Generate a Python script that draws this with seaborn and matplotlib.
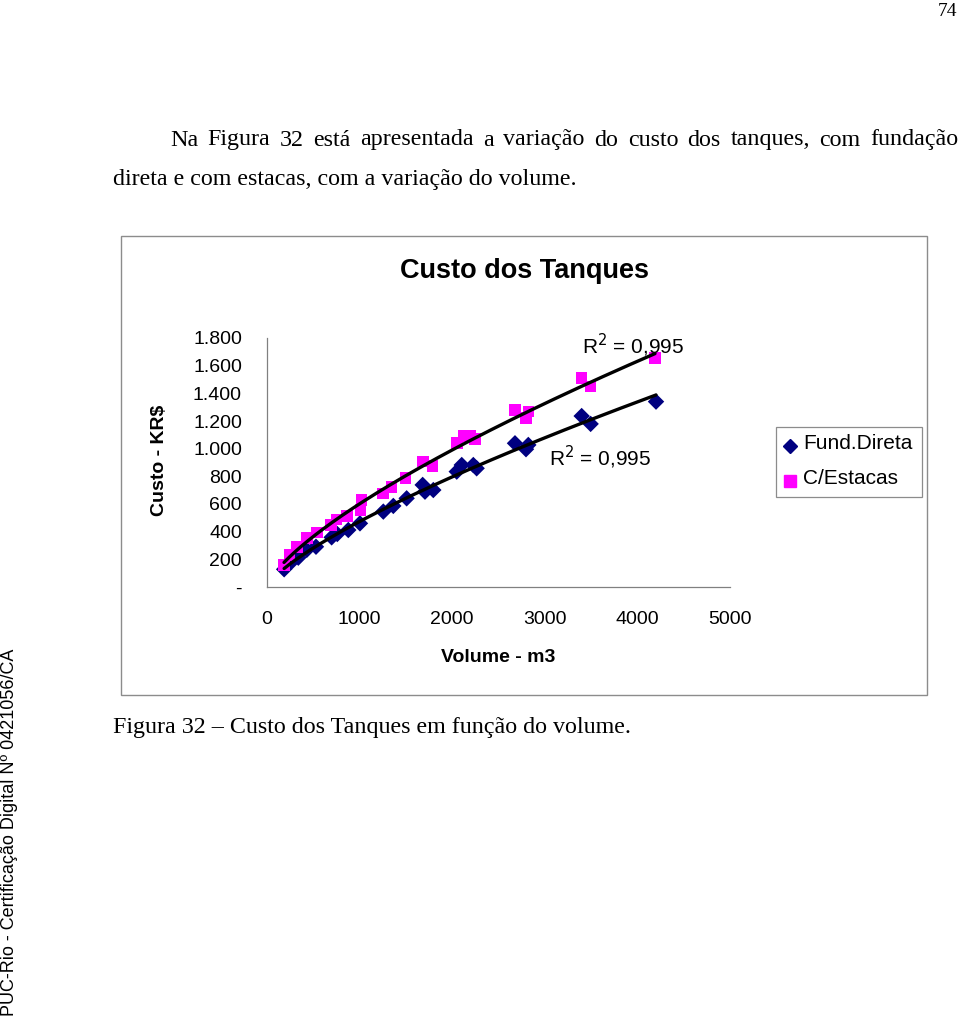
import numpy as np
import pandas as pd
import matplotlib
matplotlib.use("Agg")
import matplotlib.pyplot as plt
import seaborn as sns
from matplotlib.patches import Rectangle

# ---------------- data ----------------
vol_direta = [185, 266, 338, 429, 529, 698, 759, 878, 1004, 1256, 1364, 1508, 1681, 1706,
              1796, 2049, 2103, 2228, 2264, 2678, 2797, 2822, 3398, 3495, 4201]
cost_direta = [128, 183, 212, 268, 291, 359, 383, 412, 460, 545, 586, 641, 738, 689,
               701, 834, 882, 882, 858, 1039, 996, 1027, 1236, 1179, 1340]
vol_estacas = [184, 241, 327, 429, 543, 691, 752, 867, 1011, 1022, 1256, 1346, 1497, 1688,
               1789, 2049, 2120, 2192, 2246, 2678, 2797, 2822, 3398, 3495, 4190]
cost_estacas = [159, 231, 291, 352, 393, 448, 489, 513, 557, 629, 677, 725, 786, 906,
                875, 1039, 1092, 1092, 1070, 1280, 1220, 1268, 1509, 1449, 1654]
series_names = ["Fund.Direta", "C/Estacas"]
x_ticks = [0, 1000, 2000, 3000, 4000, 5000]
y_ticks = [0, 200, 400, 600, 800, 1000, 1200, 1400, 1600, 1800]
y_tick_labels = ["-", "200", "400", "600", "800", "1.000", "1.200", "1.400", "1.600", "1.800"]
r2_labels = ["R$^2$ = 0,995", "R$^2$ = 0,995"]

df = pd.concat([
    pd.DataFrame({"Volume": vol_direta, "Custo": cost_direta, "Serie": series_names[0]}),
    pd.DataFrame({"Volume": vol_estacas, "Custo": cost_estacas, "Serie": series_names[1]}),
], ignore_index=True)

# power trend lines (as in Excel)
trend_rows = []
for name, xs, ys in [(series_names[0], vol_direta, cost_direta),
                     (series_names[1], vol_estacas, cost_estacas)]:
    b, ln_a = np.polyfit(np.log(xs), np.log(ys), 1)
    xx = np.linspace(min(xs), max(xs), 200)
    trend_rows.append(pd.DataFrame({"Volume": xx, "Custo": np.exp(ln_a) * xx ** b, "Serie": name}))
trend = pd.concat(trend_rows, ignore_index=True)

# ---------------- figure ----------------
sns.set_theme(style="white")
plt.rcParams["font.family"] = ["Liberation Sans", "DejaVu Sans"]
plt.rcParams["text.color"] = "black"
plt.rcParams["axes.labelcolor"] = "black"
W, H = 960, 1017
fig = plt.figure(figsize=(W / 100, H / 100), dpi=100)
fig.patch.set_facecolor("white")

def fx(px):
    return px / W

def fy(py):
    return 1 - py / H

ax = fig.add_axes([fx(267), fy(587), fx(730) - fx(267), fy(338) - fy(587)])

sns.scatterplot(data=df, x="Volume", y="Custo", hue="Serie", style="Serie",
                palette={series_names[0]: "#000080", series_names[1]: "#FF00FF"},
                markers={series_names[0]: "D", series_names[1]: "s"},
                s=95, edgecolor="none", ax=ax, zorder=2, legend=False)
for c, sz in zip(ax.collections, [70, 110]):
    c.set_sizes([sz])

sns.lineplot(data=trend, x="Volume", y="Custo", units="Serie", estimator=None,
             color="black", linewidth=2.4, ax=ax, zorder=3, legend=False)

ax.set_xlim(0, 5000)
ax.set_ylim(0, 1800)
ax.set_xticks(x_ticks)
ax.set_xticklabels([str(v) for v in x_ticks])
ax.set_yticks(y_ticks)
ax.set_yticklabels(y_tick_labels)
ax.tick_params(axis="both", which="both", direction="out", length=6, width=0.9,
               color="#808080", labelsize=14, labelcolor="black")
ax.tick_params(axis="y", pad=12)
ax.tick_params(axis="x", pad=11)
for side in ["top", "right"]:
    ax.spines[side].set_visible(False)
for side in ["left", "bottom"]:
    ax.spines[side].set_color("#808080")
    ax.spines[side].set_linewidth(0.9)
ax.set_xlabel("")
ax.set_ylabel("")
ax.set_facecolor("white")

# R^2 annotations
ax.text(3400, 1750, r2_labels[1], fontsize=15, ha="left", va="center", color="black")
ax.text(3050, 935, r2_labels[0], fontsize=15, ha="left", va="center", color="black")

# chart frame, title, axis labels
fig.patches.append(Rectangle((fx(121), fy(695)), fx(927) - fx(121), fy(236) - fy(695),
                             transform=fig.transFigure, fill=False, edgecolor="#8c8c8c",
                             linewidth=1.0))
fig.text(fx(525), fy(271), "Custo dos Tanques", fontsize=19.5, fontweight="bold",
         ha="center", va="center", color="black")
fig.text(fx(498), fy(657), "Volume - m3", fontsize=14, fontweight="bold",
         ha="center", va="center", color="black")
fig.text(fx(159), fy(460), "Custo - KR$", fontsize=14, fontweight="bold",
         ha="center", va="center", rotation=90, color="black")

# legend box
fig.patches.append(Rectangle((fx(776), fy(497)), fx(922) - fx(776), fy(427) - fy(497),
                             transform=fig.transFigure, fill=False, edgecolor="#8c8c8c",
                             linewidth=0.9))
fig.lines.append(plt.Line2D([fx(790)], [fy(446)], transform=fig.transFigure, marker="D",
                            markersize=7, color="#000080", linestyle="none"))
fig.lines.append(plt.Line2D([fx(790)], [fy(481)], transform=fig.transFigure, marker="s",
                            markersize=8, color="#FF00FF", linestyle="none"))
fig.text(fx(803), fy(444), series_names[0], fontsize=15, ha="left", va="center")
fig.text(fx(803), fy(479), series_names[1], fontsize=15, ha="left", va="center")

# page text
serif = ["Liberation Serif", "DejaVu Serif"]
fig.text(fx(957), fy(11), "74", fontsize=14, family=serif, ha="right", va="center")

# justified first line of paragraph
line1 = "Na Figura 32 está apresentada a variação do custo dos tanques, com fundação"
words = line1.split()
renderer = fig.canvas.get_renderer()
word_texts = [fig.text(0, fy(140), w, fontsize=17.3, family=serif, ha="left", va="center")
              for w in words]
widths = [t.get_window_extent(renderer=renderer).width for t in word_texts]
x0, x1 = 170, 958
gap = (x1 - x0 - sum(widths)) / (len(words) - 1)
xpos = x0
for t, wdt in zip(word_texts, widths):
    t.set_x(fx(xpos))
    xpos += wdt + gap

fig.text(fx(113), fy(180), "direta e com estacas, com a variação do volume.",
         fontsize=17.3, family=serif, ha="left", va="center")
fig.text(fx(113), fy(728), "Figura 32 – Custo dos Tanques em função do volume.",
         fontsize=17.3, family=serif, ha="left", va="center")
fig.text(fx(10), fy(832), "PUC-Rio - Certificação Digital Nº 0421056/CA", fontsize=13,
         ha="center", va="center", rotation=90)

fig.savefig("out.png", dpi=100, facecolor="white")
